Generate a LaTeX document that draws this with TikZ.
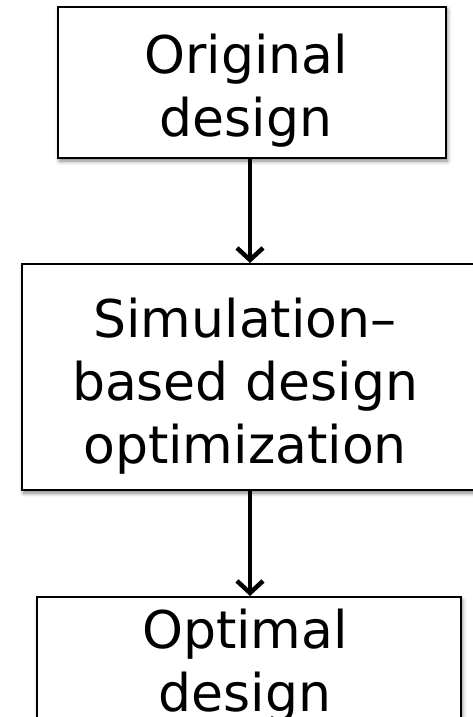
\documentclass[tikz,border=0pt]{standalone}
\usepackage{fontspec}
\setmainfont{DejaVu Sans}
\usetikzlibrary{arrows.meta}
\usetikzlibrary{shadows.blur}
\tikzset{
  stage/.style = {draw, line width=2bp, fill=white, inner sep=0pt,
    blur shadow={shadow xshift=1.5bp, shadow yshift=-3bp,
      shadow blur radius=4bp, shadow opacity=50}}
}
\tikzset{
  stage text/.style = {font=\fontsize{52bp}{63bp}\selectfont,
    align=center, inner sep=0pt}
}
\tikzset{
    >={Straight Barb[length=12bp, width=26bp]}
}

\begin{document}
\begin{tikzpicture}[x=1bp, y=-1bp]
  \useasboundingbox (0,0) rectangle (473,717);
  \clip (0,0) rectangle (473,717);

  \node[stage, minimum width=388bp, minimum height=151bp] (orig) at (252,82.5) {};
  \node[stage, minimum width=456bp, minimum height=226bp] (sim) at (250,377) {};
  \node[stage, minimum width=424bp, minimum height=160bp] (opt) at (249,677) {};

  \node[stage text] (origtxt) at (246,91) {Original\\design};
  \node[stage text] (simtxt) at (245,386) {Simulation\textendash\\based design\\optimization};
  \node[stage text] (opttxt) at (245,666) {Optimal\\design};

  \draw[->, line width=4.5bp] (orig.south -| sim.north) -- (sim.north);
  \draw[->, line width=4.5bp] (sim.south) -- (sim.south |- opt.north);
\end{tikzpicture}
\end{document}
